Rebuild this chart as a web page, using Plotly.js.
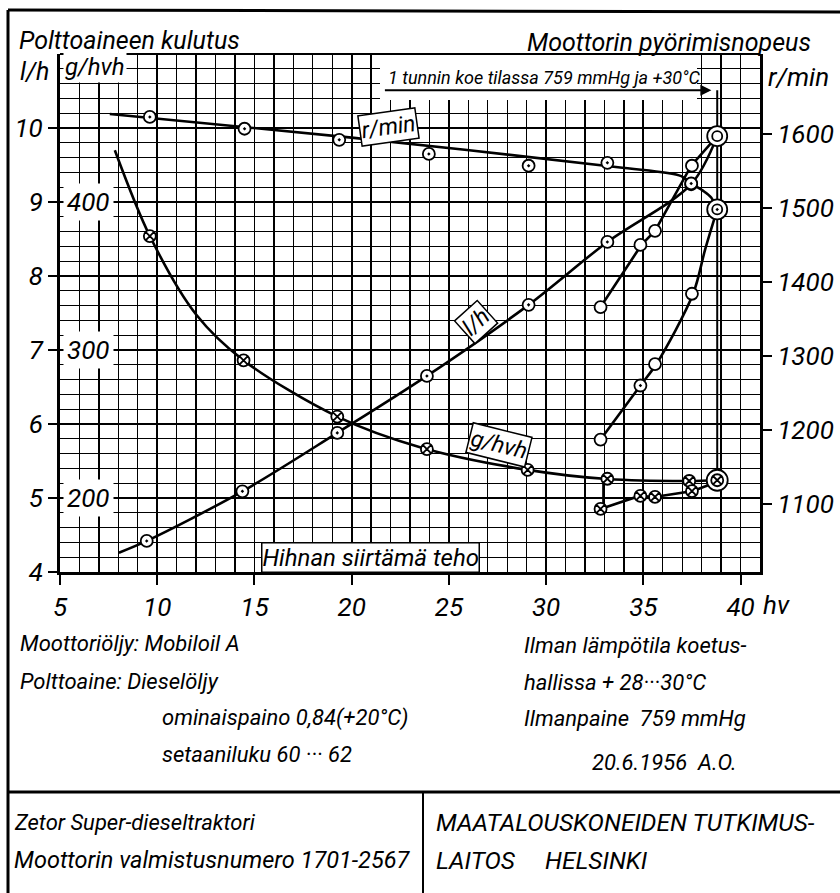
<!DOCTYPE html>
<html>
<head>
<meta charset="utf-8">
<script src="https://cdn.plot.ly/plotly-3.0.1.min.js"></script>
<style>html,body{margin:0;padding:0;background:#fff}#chart{width:840px;height:893px}</style>
</head>
<body>
<div id="chart"></div>
<script>
// ---------- DATA ----------
// Engine speed r/min, governed range (measured points)
const hvRpm = [9.62, 14.49, 19.36, 23.97, 29.10, 33.15, 37.46];
const rpmVals = [1623, 1607, 1592, 1573, 1557, 1561, 1533];
// Fuel consumption l/h, governed range
const hvLh = [9.46, 14.38, 19.26, 23.87, 29.10, 33.15, 37.46];
const lhVals = [4.42, 5.09, 5.88, 6.65, 7.61, 8.46, 9.24];
// Specific consumption g/hvh, governed range
const hvGh = [9.62, 14.44, 19.26, 23.87, 29.05, 33.15, 37.36];
const ghVals = [377, 293, 255, 233, 219, 213, 211.5];
// Lugging (reduced speed) branch
const hvLug = [32.8, 34.85, 35.6, 37.5];
const lhLug = [7.58, 8.42, 8.61, 9.49];
const rpmLug = [1187, 1260, 1289, 1384];
const ghLug = [192.6, 201.4, 200.7, 204.7];
// 1-hour test point (max)
const hvMax = [38.8];
const lhMax = [9.89];
const rpmMax = [1498];
const ghMax = [212];
// Drawn (faired) curves
const rpmCurveX = [7.56, 20.0, 33.7, 36.95, 37.46, 38.08, 38.49, 38.8];
const rpmCurveY = [1627, 1595, 1555, 1543, 1533, 1523, 1514, 1498];
const lhCurveX = [8.03, 9.46, 14.38, 19.26, 23.87, 29.10, 33.15, 37.46, 38.8];
const lhCurveY = [4.26, 4.42, 5.09, 5.88, 6.65, 7.61, 8.46, 9.24, 9.89];
const lhLugCurveX = [32.8, 34.9, 35.6, 37.46, 38.8];
const lhLugCurveY = [7.58, 8.42, 8.61, 9.49, 9.89];
const rpmLugCurveX = [32.8, 34.85, 35.67, 37.56, 38.18, 38.8];
const rpmLugCurveY = [1187, 1260, 1289, 1384, 1444, 1498];
const ghCurveX = [7.82, 9.62, 12.0, 14.44, 19.26, 23.6, 29.05, 33.15, 37.36, 38.8];
const ghCurveY = [435, 377, 324, 293, 255, 234, 219, 212.8, 211.5, 212];
const ghLugCurveX = [32.95, 32.95, 32.8, 34.8, 35.56, 37.56, 38.5];
const ghLugCurveY = [212.8, 194, 192.6, 201.4, 200.7, 204.7, 209.5];
// Tick labels
const xTickVals = [5, 10, 15, 20, 25, 30, 35, 40];
const xTickText = ['5', '10', '15', '20', '25', '30', '35', '40'];
const lhTickVals = [4, 5, 6, 7, 8, 9, 10];
const lhTickText = ['4', '5', '6', '7', '8', '9', '10'];
const rpmTickVals = [1100, 1200, 1300, 1400, 1500, 1600];
const rpmTickText = ['1100', '1200', '1300', '1400', '1500', '1600'];
const ghTickVals = [200, 300, 400];
const ghTickText = ['200', '300', '400'];

// ---------- STYLE HELPERS ----------
const FAM = 'Roboto, Liberation Sans, sans-serif';
const F = (s) => ({family: FAM, size: s, color: '#000', style: 'italic'});
const PX = (x) => (x - 60) / 700;   // pixel -> paper (x)
const PY = (y) => (572 - y) / 518;  // pixel -> paper (y)
const K = '#000';

const lineT = (x, y, ya, shape) => ({x, y, yaxis: ya, type: 'scatter', mode: 'lines',
  line: {color: K, width: 2.6, shape: shape || 'spline', smoothing: 0.9}, hoverinfo: 'skip', showlegend: false});
const markT = (x, y, ya, sym, size) => ({x, y, yaxis: ya, type: 'scatter', mode: 'markers',
  marker: {symbol: sym, size: size || 12, color: '#fff', line: {color: K, width: 1.8}}, showlegend: false});

const traces = [
  lineT(rpmCurveX, rpmCurveY, 'y2'),
  lineT(lhCurveX, lhCurveY, 'y'),
  lineT(lhLugCurveX, lhLugCurveY, 'y', 'linear'),
  lineT(rpmLugCurveX, rpmLugCurveY, 'y2'),
  lineT(ghCurveX, ghCurveY, 'y3'),
  lineT(ghLugCurveX, ghLugCurveY, 'y3', 'linear'),
  markT(hvRpm, rpmVals, 'y2', 'circle-dot'),
  markT(hvLh, lhVals, 'y', 'circle-dot'),
  markT(hvGh, ghVals, 'y3', 'circle-x'),
  markT(hvLug, lhLug, 'y', 'circle'),
  markT(hvLug, rpmLug, 'y2', ['circle', 'circle-dot', 'circle', 'circle']),
  markT(hvLug, ghLug, 'y3', 'circle-x'),
  markT(hvMax, lhMax, 'y', 'circle', 20),
  markT(hvMax, lhMax, 'y', 'circle', 10),
  markT(hvMax, rpmMax, 'y2', 'circle', 20),
  markT(hvMax, rpmMax, 'y2', 'circle-dot', 10),
  markT(hvMax, ghMax, 'y3', 'circle', 21),
  markT(hvMax, ghMax, 'y3', 'circle-x', 12)
];

const ann = [];
const A = (o) => ann.push(Object.assign({showarrow: false, font: F(22), xanchor: 'center', yanchor: 'middle'}, o));
// g/hvh scale labels inside the plot
ghTickVals.forEach((v, i) => A({xref: 'paper', x: 0.004, xanchor: 'left', yref: 'y3', y: v,
  text: ghTickText[i], font: F(26), bgcolor: '#fff', borderpad: 3}));
A({xref: 'paper', x: 0.004, xanchor: 'left', yref: 'paper', y: PY(67), text: 'g/hvh', font: F(24), bgcolor: '#fff', borderpad: 1});
A({xref: 'paper', x: PX(34), yref: 'paper', y: PY(71), text: 'l/h', font: F(25)});
A({xref: 'paper', x: PX(17), xanchor: 'left', yref: 'paper', y: PY(40), text: 'Polttoaineen kulutus', font: F(25)});
A({xref: 'paper', x: PX(813), xanchor: 'right', yref: 'paper', y: PY(42), text: 'Moottorin pyörimisnopeus', font: F(25)});
A({xref: 'paper', x: PX(798), yref: 'paper', y: PY(77), text: 'r/min', font: F(26)});
A({xref: 'paper', x: PX(776), yref: 'paper', y: PY(605), text: 'hv', font: F(26)});
A({xref: 'paper', x: PX(370), yref: 'paper', y: PY(557), text: 'Hihnan siirtämä teho', font: F(24),
  bgcolor: '#fff', bordercolor: K, borderwidth: 1.5, borderpad: 0});
// curve labels
A({x: 21.9, yref: 'y2', y: 1609, text: 'r/min', font: F(23), textangle: -8, bgcolor: '#fff', bordercolor: K, borderwidth: 1.5, borderpad: 1});
A({x: 26.4, yref: 'y', y: 7.38, text: 'l/h', font: F(23), textangle: -42, bgcolor: '#fff', bordercolor: K, borderwidth: 1.5, borderpad: 1});
A({x: 27.6, yref: 'y', y: 5.72, text: 'g/hvh', font: F(23), textangle: 14, bgcolor: '#fff', bordercolor: K, borderwidth: 1.5, borderpad: 1});
// 1-hour test note
A({xref: 'paper', x: PX(386), xanchor: 'left', yref: 'paper', y: PY(77), text: '1 tunnin koe tilassa 759 mmHg ja +30°C', font: F(18)});
ann.push({x: 38.5, y: 10.51, xref: 'x', yref: 'y', ax: -328, ay: 0, showarrow: true, text: '',
  arrowhead: 2, arrowsize: 1.1, arrowwidth: 2, arrowcolor: K, standoff: 0});
// lower text block: [text, left px, centre px, size]
const bottomTexts = [['Moottoriöljy: Mobiloil A', 18, 643, 22], ['Polttoaine: Dieselöljy', 18, 681, 22],
  ['ominaispaino 0,84(+20°C)', 160, 718, 22], ['setaaniluku 60 ··· 62', 160, 754, 22],
  ['Ilman lämpötila koetus-', 522, 645, 22], ['hallissa + 28···30°C', 522, 682, 22],
  ['Ilmanpaine  759 mmHg', 522, 718, 22], ['20.6.1956  A.O.', 590, 762, 22],
  ['Zetor Super-dieseltraktori', 12, 822, 22], ['Moottorin valmistusnumero 1701-2567', 12, 860, 23.5],
  ['MAATALOUSKONEIDEN TUTKIMUS-', 434, 822, 24.5], ['LAITOS     HELSINKI', 434, 860, 24.5]];
bottomTexts.forEach(t => A({xref: 'paper', yref: 'paper', x: PX(t[1]), xanchor: 'left', y: PY(t[2]), text: t[0], font: F(t[3])}));

const shapes = [
  {type: 'rect', xref: 'paper', yref: 'paper', x0: PX(380), x1: PX(697), y0: PY(100), y1: PY(55),
   fillcolor: '#fff', line: {width: 0}, layer: 'above'},
  {type: 'line', xref: 'x', yref: 'y', x0: 38.8, x1: 38.8, y0: 10.51, y1: 5.26, line: {color: K, width: 2}, layer: 'below'},
  {type: 'line', xref: 'paper', yref: 'paper', x0: 0, x1: 1, y0: 1, y1: 1, line: {color: K, width: 2}},
  // drawing frame
  {type: 'line', xref: 'paper', yref: 'paper', x0: PX(8), x1: PX(8), y0: PY(10), y1: PY(893), line: {color: K, width: 3}},
  {type: 'line', xref: 'paper', yref: 'paper', x0: PX(8), x1: PX(840), y0: PY(10), y1: PY(12), line: {color: K, width: 3}},
  {type: 'line', xref: 'paper', yref: 'paper', x0: PX(8), x1: PX(840), y0: PY(792), y1: PY(792), line: {color: K, width: 3}},
  {type: 'line', xref: 'paper', yref: 'paper', x0: PX(423), x1: PX(423), y0: PY(792), y1: PY(893), line: {color: K, width: 2}}
];

const layout = {
  width: 840, height: 893,
  margin: {l: 60, r: 80, t: 54, b: 321},
  paper_bgcolor: '#fff', plot_bgcolor: '#fff',
  font: F(22), showlegend: false,
  xaxis: {range: [5, 41], tickmode: 'array', tickvals: xTickVals, ticktext: xTickText,
    ticks: 'outside', ticklen: 10, tickwidth: 2, tickcolor: K, tickfont: F(26),
    showline: true, linewidth: 3, linecolor: K, zeroline: false,
    showgrid: true, gridcolor: K, gridwidth: 1.8,
    minor: {tickmode: 'linear', tick0: 5, dtick: 1, showgrid: true, gridcolor: K, gridwidth: 1.3, ticks: ''}},
  yaxis: {range: [4, 11], tickmode: 'array', tickvals: lhTickVals, ticktext: lhTickText,
    ticks: 'outside', ticklen: 9, tickwidth: 2, tickcolor: K, tickfont: F(26),
    showline: true, linewidth: 3, linecolor: K, zeroline: false,
    showgrid: true, gridcolor: K, gridwidth: 1.6,
    minor: {tickmode: 'linear', tick0: 4, dtick: 0.2, showgrid: true, gridcolor: K, gridwidth: 1.3, ticks: ''}},
  yaxis2: {range: [1008, 1708], overlaying: 'y', side: 'right', tickmode: 'array',
    tickvals: rpmTickVals, ticktext: rpmTickText, ticks: 'outside', ticklen: 9, tickwidth: 2,
    tickcolor: K, tickfont: F(26), showline: true, linewidth: 3, linecolor: K,
    showgrid: false, zeroline: false},
  yaxis3: {range: [150, 500], overlaying: 'y', visible: false},
  annotations: ann,
  shapes: shapes
};

Plotly.newPlot('chart', traces, layout, {displayModeBar: false, staticPlot: true});
</script>
</body>
</html>
